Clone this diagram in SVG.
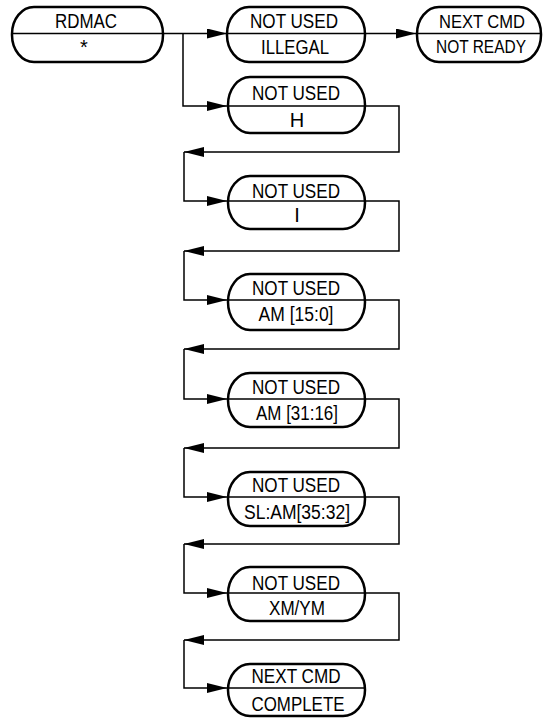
<svg xmlns="http://www.w3.org/2000/svg" width="543" height="723" viewBox="0 0 543 723">
<style>
.n{fill:#fff;stroke:#000;stroke-width:2.5}
.d{stroke:#000;stroke-width:1.5}
.c{fill:none;stroke:#000;stroke-width:1.5}
text{font-family:"Liberation Sans",Arial,sans-serif;font-size:20px;fill:#000;text-anchor:middle}
.s{font-size:18px}
</style>
<defs>
<marker id="a" markerUnits="userSpaceOnUse" markerWidth="21" markerHeight="11" refX="20" refY="5" orient="auto">
<path d="M0,0 L20,5 L0,10 z" fill="#000"/>
</marker>
</defs>
<g id="connectors">
<path class="c" d="M163,33.5 H227" marker-end="url(#a)"/>
<path class="c" d="M183,33.5 V106 H227" marker-end="url(#a)"/>
<path class="c" d="M365,33.5 H416" marker-end="url(#a)"/>
<path class="c" d="M365,106 H399 V152 H184" marker-end="url(#a)"/>
<path class="c" d="M184,152 V201 H227" marker-end="url(#a)"/>
<path class="c" d="M365,201 H399 V251 H184" marker-end="url(#a)"/>
<path class="c" d="M184,251 V300 H227" marker-end="url(#a)"/>
<path class="c" d="M365,300 H399 V349 H184" marker-end="url(#a)"/>
<path class="c" d="M184,349 V399 H227" marker-end="url(#a)"/>
<path class="c" d="M365,399 H399 V448 H184" marker-end="url(#a)"/>
<path class="c" d="M184,448 V497 H227" marker-end="url(#a)"/>
<path class="c" d="M365,497 H399 V544 H184" marker-end="url(#a)"/>
<path class="c" d="M184,544 V593 H227" marker-end="url(#a)"/>
<path class="c" d="M365,593 H399 V640 H184" marker-end="url(#a)"/>
<path class="c" d="M184,640 V688 H227" marker-end="url(#a)"/>
</g>
<g id="rdmac">
<rect class="n" x="12" y="7" width="151" height="55" rx="22" ry="27"/>
<line class="d" x1="12" y1="33.5" x2="163" y2="33.5"/>
<text x="86" y="28" textLength="62" lengthAdjust="spacingAndGlyphs">RDMAC</text>
<text x="84" y="54">*</text>
</g>
<g id="illegal">
<rect class="n" x="227" y="7" width="138" height="55" rx="22" ry="27"/>
<line class="d" x1="227" y1="33.5" x2="365" y2="33.5"/>
<text x="294" y="28" textLength="88" lengthAdjust="spacingAndGlyphs">NOT USED</text>
<text x="295" y="54" textLength="68" lengthAdjust="spacingAndGlyphs">ILLEGAL</text>
</g>
<g id="notready">
<rect class="n" x="417" y="7" width="124" height="55" rx="22" ry="27"/>
<line class="d" x1="417" y1="33.5" x2="541" y2="33.5"/>
<text class="s" x="482" y="28" textLength="86" lengthAdjust="spacingAndGlyphs">NEXT CMD</text>
<text class="s" x="481" y="53" textLength="90" lengthAdjust="spacingAndGlyphs">NOT READY</text>
</g>
<g id="h">
<rect class="n" x="228" y="77" width="137" height="56" rx="22" ry="28"/>
<line class="d" x1="228" y1="106" x2="365" y2="106"/>
<text x="296" y="100" textLength="88" lengthAdjust="spacingAndGlyphs">NOT USED</text>
<text x="297" y="127">H</text>
</g>
<g id="i">
<rect class="n" x="228" y="176" width="137" height="53" rx="22" ry="26.5"/>
<line class="d" x1="228" y1="201" x2="365" y2="201"/>
<text x="296" y="198" textLength="88" lengthAdjust="spacingAndGlyphs">NOT USED</text>
<text x="297" y="222">I</text>
</g>
<g id="am15">
<rect class="n" x="228" y="274" width="137" height="56" rx="22" ry="28"/>
<line class="d" x1="228" y1="300" x2="365" y2="300"/>
<text x="296" y="295" textLength="88" lengthAdjust="spacingAndGlyphs">NOT USED</text>
<text x="296" y="321" textLength="75" lengthAdjust="spacingAndGlyphs">AM [15:0]</text>
</g>
<g id="am31">
<rect class="n" x="228" y="373" width="137" height="54" rx="22" ry="27"/>
<line class="d" x1="228" y1="399" x2="365" y2="399"/>
<text x="296" y="394" textLength="88" lengthAdjust="spacingAndGlyphs">NOT USED</text>
<text x="297" y="420" textLength="82" lengthAdjust="spacingAndGlyphs">AM [31:16]</text>
</g>
<g id="slam">
<rect class="n" x="228" y="472" width="137" height="54" rx="22" ry="27"/>
<line class="d" x1="228" y1="497" x2="365" y2="497"/>
<text x="296" y="492" textLength="88" lengthAdjust="spacingAndGlyphs">NOT USED</text>
<text x="297" y="519" textLength="106" lengthAdjust="spacingAndGlyphs">SL:AM[35:32]</text>
</g>
<g id="xmym">
<rect class="n" x="228" y="567" width="137" height="54" rx="22" ry="27"/>
<line class="d" x1="228" y1="593" x2="365" y2="593"/>
<text x="296" y="590" textLength="88" lengthAdjust="spacingAndGlyphs">NOT USED</text>
<text x="297" y="615" textLength="56" lengthAdjust="spacingAndGlyphs">XM/YM</text>
</g>
<g id="complete">
<rect class="n" x="228" y="664" width="137" height="52" rx="22" ry="26"/>
<line class="d" x1="228" y1="688" x2="365" y2="688"/>
<text x="296" y="683" textLength="89" lengthAdjust="spacingAndGlyphs">NEXT CMD</text>
<text x="298" y="711" textLength="93" lengthAdjust="spacingAndGlyphs">COMPLETE</text>
</g>
</svg>
